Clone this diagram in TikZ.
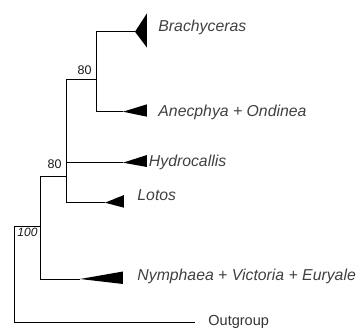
\documentclass[tikz,border=0pt]{standalone}
\usepackage{fontspec}
\setmainfont{Liberation Sans}
\usetikzlibrary{positioning}

\begin{document}
\begin{tikzpicture}[x=1pt,y=-1pt,line width=0.9pt,
  taxon/.style={anchor=base west,inner sep=0pt,text=black!75,font=\fontsize{15.8}{18}\selectfont\itshape},
  outname/.style={anchor=base west,inner sep=0pt,text=black!80,font=\fontsize{14.5}{17}\selectfont},
  boot/.style={inner sep=0pt,text=black!90,font=\fontsize{12.5}{14}\selectfont}]
\useasboundingbox (0,0) rectangle (360,329);
% internal nodes and tips
\coordinate (root) at (14.5,274);
\coordinate (nA) at (40.7,226.7);
\coordinate (nB) at (66.7,176.7);
\coordinate (nC) at (96.7,79.3);
\coordinate (tipBra) at (135,31.7);
\coordinate (tipAne) at (123,111.7);
\coordinate (tipHyd) at (123,162.7);
\coordinate (tipLot) at (105,202.7);
\coordinate (tipNym) at (80,279);
\coordinate (og) at (195,322);
% branches
\draw (root) |- (nA);
\draw (root) |- (og);
\draw (nA) |- (nB);
\draw (nA) |- (tipNym);
\foreach \t in {nC,tipHyd,tipLot}{\draw (nB) |- (\t);}
\foreach \t in {tipBra,tipAne}{\draw (nC) |- (\t);}
% collapsed clades
\foreach \t/\w/\u/\d in {tipBra/12/18.4/16,tipAne/24/7.4/5,tipHyd/24/7.7/4.3,tipLot/19/7.7/5,tipNym/43/7.5/5}{
  \fill (\t) -- ++(\w,-\u) -- ++(0,\u+\d) -- cycle;}
% names
\node[taxon] (bra) at (158,31.5) {Brachyceras};
\node[taxon] (ane) at (158,117) {Anecphya + Ondinea};
\node[taxon] (hyd) at (148.5,166.5) {Hydrocallis};
\node[taxon] (lot) at (137,200.7) {Lotos};
\node[taxon] (nym) at (137,280.7) {Nymphaea + Victoria + Euryale};
\node[outname] (out) at (208,325.7) {Outgroup};
% support values
\node[boot,anchor=base east] (bC) at (92,75) {80};
\node[boot,anchor=base east] (bB) at (62,168.3) {80};
\node[boot,anchor=base west,font=\fontsize{12}{14}\selectfont\itshape] (bR) at (17,236.7) {100};
\end{tikzpicture}
\end{document}
